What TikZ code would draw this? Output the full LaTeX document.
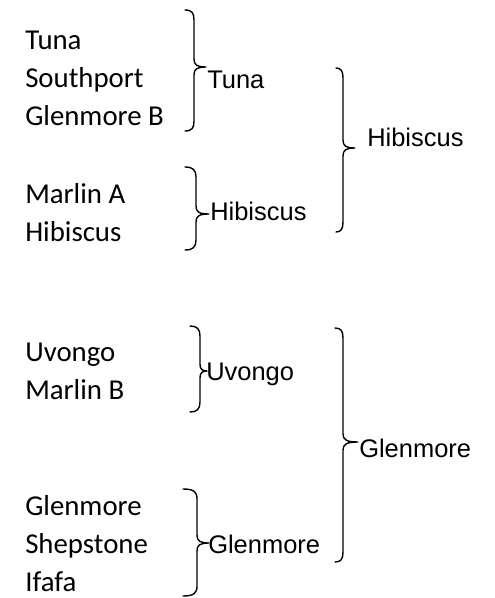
\documentclass[tikz,border=0pt]{standalone}
\usepackage{fontspec}
\setmainfont{Carlito}
\newfontfamily\arialfont{Liberation Sans}
\usepackage{tikz}

\begin{document}
\begin{tikzpicture}[x=0.75pt,y=0.75pt,yscale=-1,xscale=1,
		field/.style={anchor=base west,inner sep=0pt,font=\fontsize{21.6}{25}\selectfont},
		group/.style={anchor=base west,inner sep=0pt,font=\arialfont\fontsize{19.1}{22}\selectfont},
		rbrace/.style={line width=1.05,line cap=round,line join=round}]
	\path (0,0) rectangle (494,598); %set diagram size
	
	%Shape: Right Brace [Tuna]
	\draw [rbrace] (185,10) .. controls (192,10) and (194,13) .. (194,20) -- (194,59) .. controls (194,65) and (197,67) .. (206,67) .. controls (197,67) and (194,69) .. (194,75) -- (194,121) .. controls (194,128) and (192,131) .. (185,131) ;
	%Shape: Right Brace [Hibiscus]
	\draw [rbrace] (185,167) .. controls (193,167) and (196,170) .. (196,177) -- (196,206) .. controls (196,212) and (199,214) .. (209,214) .. controls (199,214) and (196,216) .. (196,222) -- (196,240) .. controls (196,247) and (193,250) .. (185,250) ;
	%Shape: Right Brace [Uvongo]
	\draw [rbrace] (190,326) .. controls (197,326) and (200,329) .. (200,336) -- (200,364) .. controls (200,369) and (202,371) .. (207,371) .. controls (202,371) and (200,373) .. (200,378) -- (200,402) .. controls (200,409) and (197,412) .. (190,412) ;
	%Shape: Right Brace [Glenmore]
	\draw [rbrace] (183,489) .. controls (194,489) and (197,492) .. (197,499) -- (197,535) .. controls (197,541) and (200,543) .. (209,543) .. controls (200,543) and (197,545) .. (197,551) -- (197,586) .. controls (197,593) and (194,596) .. (183,596) ;
	%Shape: Right Brace [big Hibiscus]
	\draw [rbrace] (336,68) .. controls (341,68) and (343,71) .. (343,78) -- (343,140) .. controls (343,146) and (346,148) .. (355,148) .. controls (346,148) and (343,150) .. (343,156) -- (343,222) .. controls (343,229) and (341,232) .. (336,232) ;
	%Shape: Right Brace [big Glenmore]
	\draw [rbrace] (335,328) .. controls (341,328) and (343,331) .. (343,338) -- (343,434) .. controls (343,440) and (347,442) .. (358,442) .. controls (347,442) and (343,444) .. (343,450) -- (343,552) .. controls (343,559) and (341,562) .. (335,562) ;
	
	% Text Node
	\draw (25,50) node [field] (f1) {Tuna};
	% Text Node
	\draw (25,88) node [field] (f2) {Southport};
	% Text Node
	\draw (25,126) node [field] (f3) {Glenmore B};
	% Text Node
	\draw (25,204) node [field] (f4) {Marlin A};
	% Text Node
	\draw (25,242) node [field] (f5) {Hibiscus};
	% Text Node
	\draw (25,361) node [field] (f6) {Uvongo};
	% Text Node
	\draw (25,399) node [field] (f7) {Marlin B};
	% Text Node
	\draw (25,515) node [field] (f8) {Glenmore};
	% Text Node
	\draw (25,553) node [field] (f9) {Shepstone};
	% Text Node
	\draw (25,591) node [field] (f10) {Ifafa};
	
	% Text Node
	\draw (207,88.5) node [group] (g1) {Tuna};
	% Text Node
	\draw (210,221) node [group] (g2) {Hibiscus};
	% Text Node
	\draw (206,380) node [group] (g3) {Uvongo};
	% Text Node
	\draw (208,553) node [group] (g4) {Glenmore};
	% Text Node
	\draw (367,147) node [group] (h1) {Hibiscus};
	% Text Node
	\draw (359,457) node [group] (h2) {Glenmore};
	
\end{tikzpicture}
\end{document}
